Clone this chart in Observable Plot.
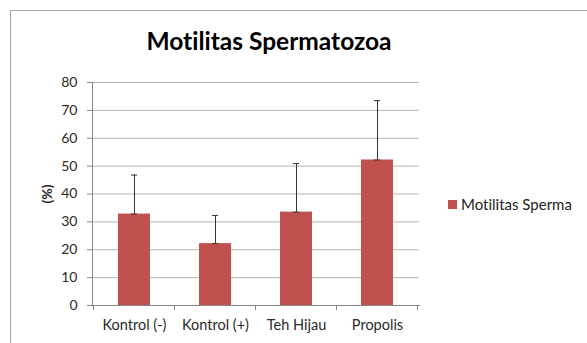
<!DOCTYPE html>
<html>
<head>
<meta charset="utf-8">
<script src="https://cdn.jsdelivr.net/npm/d3@7"></script>
<script src="https://cdn.jsdelivr.net/npm/@observablehq/plot@0.6"></script>
<style>
  body { margin: 0; background: #fff; }
  #wrap { position: relative; width: 587px; height: 343px; overflow: hidden; font-family: Lato, sans-serif; font-variant-ligatures: none; }
  #frame { position: absolute; left: 10px; top: 10px; width: 640px; height: 400px; border: 1px solid #a6a6a6; box-sizing: border-box; }
  #title { position: absolute; left: 0; top: 26px; width: 538px; text-align: center; font-size: 24.5px; font-weight: 700; color: #000; }
  #chart { position: absolute; left: 0; top: 0; }
  #chart svg { font-variant-ligatures: none; }
  #legend { position: absolute; left: 448px; top: 195px; font-size: 15px; color: #222; display: flex; align-items: center; }
  #legend .sw { width: 9px; height: 9px; margin-right: 4px; }
</style>
</head>
<body>
<div id="wrap">
  <div id="frame"></div>
  <div id="title">Motilitas Spermatozoa</div>
  <div id="chart"></div>
  <div id="legend"></div>
</div>
<script>
// Sperm motility (%) per treatment group, mean with upper error bar
const categories = ["Kontrol (-)", "Kontrol (+)", "Teh Hijau", "Propolis"];
const means = [32.8, 22.2, 33.5, 52.2];
const errors = [14.0, 10.1, 17.4, 21.3];
const yTicks = [0, 10, 20, 30, 40, 50, 60, 70, 80];
const seriesName = "Motilitas Sperma";
const barColor = "#C0504D";

const data = categories.map((c, i) => ({cat: c, mean: means[i], upper: means[i] + errors[i]}));

// Category-boundary tick marks under the x axis
function categoryTicks(index, scales) {
  const x = scales.x, y = scales.y;
  const step = x.step(), bw = x.bandwidth();
  const bounds = categories.map(c => x(c) + bw / 2 - step / 2);
  bounds.push(bounds[bounds.length - 1] + step);
  const y0 = y(0);
  const g = d3.create("svg:g").attr("stroke", "#868686");
  g.selectAll("line").data(bounds).join("line")
    .attr("x1", d => d).attr("x2", d => d)
    .attr("y1", y0).attr("y2", y0 + 5);
  return g.node();
}

const chart = Plot.plot({
  width: 587,
  height: 343,
  marginLeft: 92,
  marginRight: 168,
  marginTop: 82,
  marginBottom: 38,
  style: {fontFamily: "Lato, sans-serif", fontSize: "14px", color: "#2a2a2a", background: "transparent"},
  x: {domain: categories, paddingInner: 0.61, paddingOuter: 0.305},
  y: {domain: [0, 80]},
  marks: [
    Plot.gridY(yTicks, {stroke: "#b3b3b3", strokeOpacity: 1}),
    Plot.barY(data, {x: "cat", y: "mean", fill: barColor}),
    Plot.ruleX(data, {x: "cat", y1: "mean", y2: "upper", stroke: "#333", strokeWidth: 1}),
    Plot.tickY(data, {x: "cat", y: "upper", stroke: "#333", insetLeft: 13, insetRight: 13}),
    Plot.tickY(data, {x: "cat", y: "mean", stroke: "#333", insetLeft: 13, insetRight: 13}),
    Plot.frame({anchor: "left", stroke: "#868686"}),
    Plot.frame({anchor: "bottom", stroke: "#868686"}),
    categoryTicks,
    Plot.axisY(yTicks, {tickSize: 5, tickPadding: 10, stroke: "#868686", fontSize: 14, label: "(%)", labelAnchor: "center", labelArrow: "none", labelOffset: 50}),
    Plot.axisX({tickSize: 0, tickPadding: 14, fontSize: 14.5, label: null})
  ]
});
document.getElementById("chart").append(chart);

// Bold y-axis title
d3.select(chart).selectAll("[aria-label='y-axis label'] text").attr("font-weight", 700);

const legend = document.getElementById("legend");
const sw = document.createElement("span");
sw.className = "sw";
sw.style.background = barColor;
legend.append(sw, document.createTextNode(seriesName));
</script>
</body>
</html>
